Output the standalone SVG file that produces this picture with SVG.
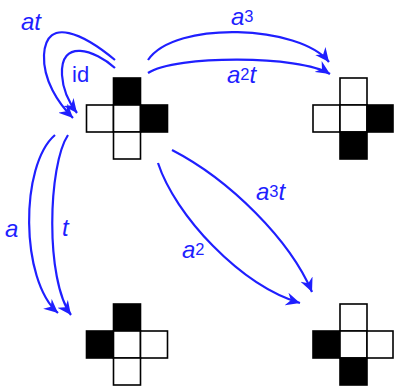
<svg xmlns="http://www.w3.org/2000/svg" width="394" height="386" viewBox="0 0 394 386">
<style>
.c{stroke:#000;stroke-width:1.6;fill:#fff}
.k{fill:#000}
.e{fill:none;stroke:#1f1fff;stroke-width:2.2}
.l{fill:#1f1fff;font-family:"Liberation Sans",Arial,sans-serif;font-size:24px;font-style:italic}
.u{font-style:normal;font-size:22px}
.s{font-size:16.5px;font-style:normal}
</style>
<defs>
<marker id="ah" markerUnits="userSpaceOnUse" markerWidth="16" markerHeight="14" refX="14" refY="7" orient="auto">
<path d="M14,7 L0,0.5 L4.5,7 L0,13.5 Z" fill="#1f1fff"/>
</marker>
</defs>
<g id="node-id">
<rect x="113.5" y="78" width="27" height="27" class="c k"/>
<rect x="86.5" y="105" width="27" height="27" class="c"/>
<rect x="113.5" y="105" width="27" height="27" class="c"/>
<rect x="140.5" y="105" width="27" height="27" class="c k"/>
<rect x="113.5" y="132" width="27" height="27" class="c"/>
</g>
<g id="node-tr">
<rect x="340" y="78" width="27" height="27" class="c"/>
<rect x="313" y="105" width="27" height="27" class="c"/>
<rect x="340" y="105" width="27" height="27" class="c"/>
<rect x="367" y="105" width="26" height="27" class="c k"/>
<rect x="340" y="132" width="27" height="27" class="c k"/>
</g>
<g id="node-bl">
<rect x="113.5" y="304" width="27" height="27" class="c k"/>
<rect x="86.5" y="331" width="27" height="27" class="c k"/>
<rect x="113.5" y="331" width="27" height="27" class="c"/>
<rect x="140.5" y="331" width="27" height="27" class="c"/>
<rect x="113.5" y="358" width="27" height="27" class="c"/>
</g>
<g id="node-br">
<rect x="340" y="304" width="27" height="27" class="c"/>
<rect x="313" y="331" width="27" height="27" class="c k"/>
<rect x="340" y="331" width="27" height="27" class="c"/>
<rect x="367" y="331" width="26" height="27" class="c"/>
<rect x="340" y="358" width="27" height="27" class="c k"/>
</g>
<g id="connectors">
<path class="e" marker-end="url(#ah)" d="M115,60 C85,35 46,15 44,55 C43,80 58,103 73,118"/>
<path class="e" marker-end="url(#ah)" d="M115,68 C95,50 60,38 62,75 C63,92 70,104 77,113"/>
<path class="e" marker-end="url(#ah)" d="M148,60 C175,20 300,25 329,62"/>
<path class="e" marker-end="url(#ah)" d="M148,73 C175,55 300,55 330,74"/>
<path class="e" marker-end="url(#ah)" d="M55,135 C20,165 20,280 58,313"/>
<path class="e" marker-end="url(#ah)" d="M68,135 C48,165 45,280 71,315"/>
<path class="e" marker-end="url(#ah)" d="M158,163 C175,215 240,285 300,303"/>
<path class="e" marker-end="url(#ah)" d="M172,150 C230,180 290,240 312,292"/>
</g>
<g id="labels">
<text class="l" x="21" y="30">at</text>
<text class="l u" x="72" y="81.5">id</text>
<text class="l" x="231" y="25">a<tspan class="s" dy="-3.5">3</tspan></text>
<text class="l" x="227" y="83">a<tspan class="s" dy="-3.5">2</tspan><tspan dy="3.5">t</tspan></text>
<text class="l" x="5" y="237">a</text>
<text class="l" x="62" y="236">t</text>
<text class="l" x="182" y="258">a<tspan class="s" dy="-3.5">2</tspan></text>
<text class="l" x="256" y="200">a<tspan class="s" dy="-3.5">3</tspan><tspan dy="3.5">t</tspan></text>
</g>
</svg>
